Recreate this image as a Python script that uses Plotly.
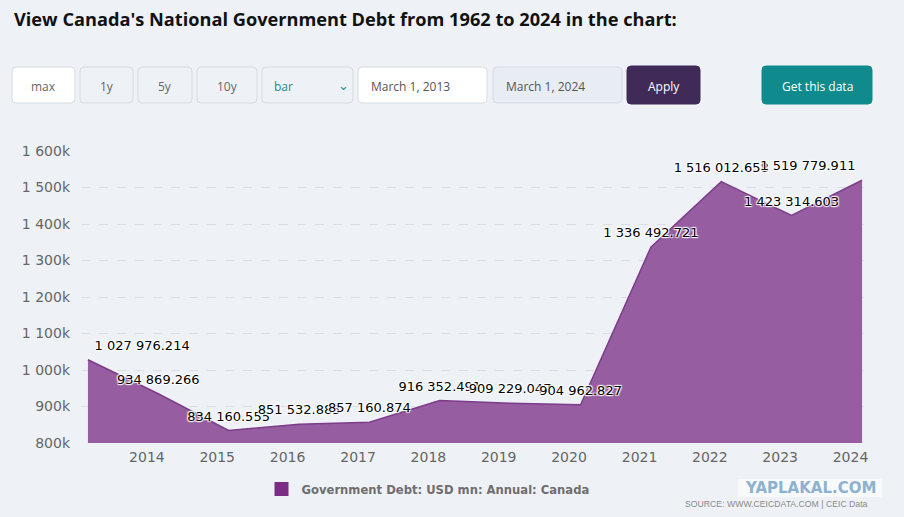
import plotly.graph_objects as go

# Canada government debt, USD mn, annual
years = [2013, 2014, 2015, 2016, 2017, 2018, 2019, 2020, 2021, 2022, 2023, 2024]
debt = [
    1027976.214, 934869.266, 834160.555, 851532.885, 857160.874, 916352.491,
    909229.047, 904962.827, 1336492.721, 1516012.658, 1423314.603, 1519779.911,
]
tick_years = [2014, 2015, 2016, 2017, 2018, 2019, 2020, 2021, 2022, 2023, 2024]
y_ticks = [800000, 900000, 1000000, 1100000, 1200000, 1300000, 1400000, 1500000, 1600000]
y_tick_text = ["800k", "900k", "1 000k", "1 100k", "1 200k", "1 300k", "1 400k", "1 500k", "1 600k"]

BG = "#eef2f7"
FILL = "#965ea1"
LINE = "#7d3c8a"

# plot area in pixels (used to place the page widgets around the chart)
W, H = 904, 517
PL, PR, PT, PB = 81, 869, 151, 443


def px(x):
    return (x - PL) / (PR - PL)


def py(y):
    return (PB - y) / (PB - PT)


def fmt(v):
    return f"{v:,.3f}".replace(",", " ")


dates = [f"{y}-03-01" for y in years]
positions = ["top center"] * len(years)
positions[0] = "top right"
positions[-1] = "top left"

fig = go.Figure()
fig.add_trace(
    go.Scatter(
        x=dates,
        y=debt,
        mode="lines+markers+text",
        fill="tozeroy",
        fillcolor=FILL,
        line={"color": LINE, "width": 1.5},
        # invisible markers only push the labels a bit higher
        marker={"size": 9, "opacity": 0},
        text=[fmt(v) for v in debt],
        textposition=positions,
        textfont={
            "family": "DejaVu Sans",
            "size": 13,
            "color": "#000000",
            "shadow": "-1px -1px 1px #fff, 1px -1px 1px #fff, -1px 1px 1px #fff, 1px 1px 1px #fff",
        },
        cliponaxis=False,
        showlegend=False,
        hoverinfo="skip",
    )
)
# legend entry drawn as a plain square swatch
fig.add_trace(
    go.Scatter(
        x=[None],
        y=[None],
        mode="markers",
        marker={"symbol": "square", "size": 14, "color": "#7b2d86"},
        name="Government Debt: USD mn: Annual: Canada",
    )
)

shapes = []
annotations = []


def rbox(x0, y0, x1, y1, fill, border, r=4):
    # rounded rectangle in paper units
    rx = r / (PR - PL)
    ry = r / (PB - PT)
    a0, a1 = px(x0), px(x1)
    b0, b1 = py(y1), py(y0)  # b0 bottom, b1 top
    path = (
        f"M {a0 + rx},{b0} L {a1 - rx},{b0} Q {a1},{b0} {a1},{b0 + ry} "
        f"L {a1},{b1 - ry} Q {a1},{b1} {a1 - rx},{b1} L {a0 + rx},{b1} "
        f"Q {a0},{b1} {a0},{b1 - ry} L {a0},{b0 + ry} Q {a0},{b0} {a0 + rx},{b0} Z"
    )
    shapes.append(
        {
            "type": "path",
            "xref": "paper",
            "yref": "paper",
            "path": path,
            "fillcolor": fill,
            "line": {"color": border, "width": 1},
            "layer": "above",
        }
    )


def label(x, y, text, color="#666666", size=12, anchor="center", family="Open Sans", bold=False):
    annotations.append(
        {
            "x": px(x),
            "y": py(y),
            "xref": "paper",
            "yref": "paper",
            "text": f"<b>{text}</b>" if bold else text,
            "showarrow": False,
            "xanchor": anchor,
            "yanchor": "middle",
            "font": {"family": family, "size": size, "color": color},
        }
    )


# title
label(12, 19, "View Canada's National Government Debt from 1962 to 2024 in the chart:",
      color="#111111", size=18.2, anchor="left", family="Open Sans", bold=True)

# control row
BTN_T, BTN_B = 67, 103
rbox(12, BTN_T, 75, BTN_B, "#ffffff", "#d5dbe2")
label(43.5, 86, "max", size=12)
rbox(80, BTN_T, 133, BTN_B, "#eef2f6", "#d5dbe2")
label(106.5, 86, "1y", size=12)
rbox(138, BTN_T, 192, BTN_B, "#eef2f6", "#d5dbe2")
label(165, 86, "5y", size=12)
rbox(197, BTN_T, 257, BTN_B, "#eef2f6", "#d5dbe2")
label(227, 86, "10y", size=12)
rbox(262, BTN_T, 353, BTN_B, "#eef2f6", "#d5dbe2")
label(272, 86, "bar", color="#1f8a8c", size=12, anchor="left")
label(343, 85, "⌄", color="#1f8a8c", size=13)
rbox(358, BTN_T, 487, BTN_B, "#ffffff", "#d5dbe2")
label(369, 86, "March 1, 2013", color="#555555", size=12, anchor="left")
rbox(493, BTN_T, 622, BTN_B, "#e8edf3", "#d5dbe2")
label(504, 86, "March 1, 2024", color="#555555", size=12, anchor="left")
rbox(627, 66, 700, 104, "#402b58", "#402b58")
label(663.5, 86, "Apply", color="#ffffff", size=12)
rbox(762, 66, 872, 104, "#0f8b8d", "#0f8b8d")
label(817, 86, "Get this data", color="#ffffff", size=12)

# watermark and source
shapes.append(
    {
        "type": "rect", "xref": "paper", "yref": "paper",
        "x0": px(738), "x1": px(882), "y0": py(497), "y1": py(479),
        "fillcolor": "rgba(255,255,255,0.55)", "line": {"width": 0}, "layer": "above",
    }
)
label(810, 488, "YAPLAKAL.COM", color="#8db2cf", size=15, family="DejaVu Sans", bold=True)
label(870, 504, "SOURCE: WWW.CEICDATA.COM | CEIC Data", color="#8a8a8a", size=8.7,
      anchor="right", family="Liberation Sans")

fig.update_layout(
    width=W,
    height=H,
    paper_bgcolor=BG,
    plot_bgcolor=BG,
    margin={"l": PL, "r": W - PR, "t": PT, "b": H - PB, "pad": 0},
    font={"family": "DejaVu Sans", "color": "#666666"},
    shapes=shapes,
    annotations=annotations,
    showlegend=True,
    legend={
        "orientation": "h",
        "x": px(428),
        "xanchor": "center",
        "y": py(489),
        "yanchor": "middle",
        "font": {"family": "DejaVu Sans", "size": 11.6, "color": "#6e6e6e", "weight": "bold"},
        "bgcolor": "rgba(0,0,0,0)",
        "itemwidth": 30,
    },
    xaxis={
        "type": "date",
        "range": ["2013-01-24", "2024-04-06"],
        "tickvals": [f"{y}-01-01" for y in tick_years],
        "ticktext": [str(y) for y in tick_years],
        "showgrid": False,
        "zeroline": False,
        "showline": False,
        "ticks": "",
        "tickfont": {"family": "DejaVu Sans", "size": 14, "color": "#666666"},
        "ticklabelstandoff": 4,
    },
    yaxis={
        "range": [800000, 1600000],
        "tickvals": y_ticks,
        "ticktext": y_tick_text,
        "showgrid": True,
        "gridcolor": "#d9dee5",
        "griddash": "dash",
        "gridwidth": 1,
        "zeroline": False,
        "showline": False,
        "ticks": "",
        "tickfont": {"family": "DejaVu Sans", "size": 14, "color": "#666666"},
        "ticklabelstandoff": 10,
    },
)

fig.write_html(
    "out.html",
    config={"displayModeBar": False},
    post_script="document.body.style.margin='0';document.body.style.background='" + BG + "';",
)
